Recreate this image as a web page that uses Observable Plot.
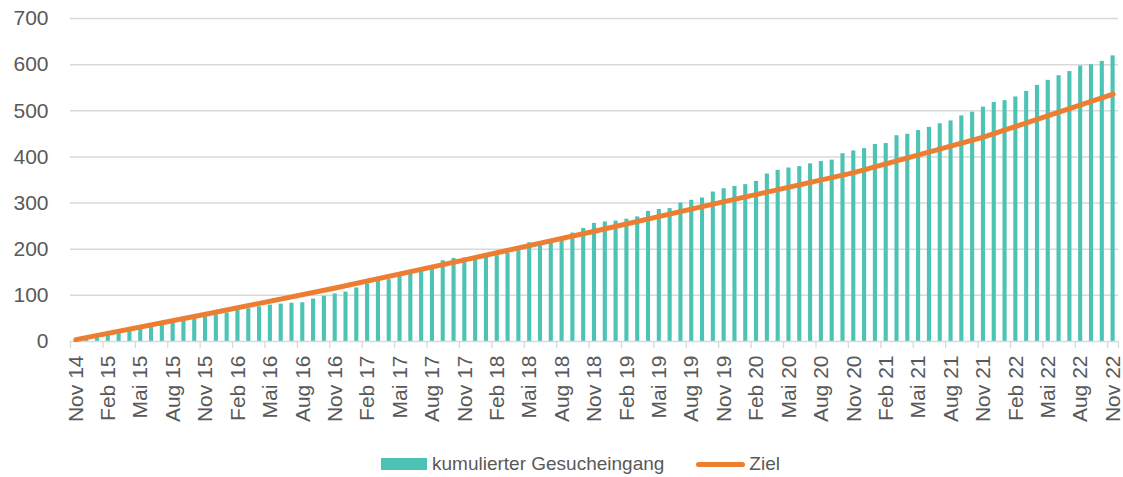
<!DOCTYPE html>
<html>
<head>
<meta charset="utf-8">
<script src="https://cdn.jsdelivr.net/npm/d3@7"></script>
<script src="https://cdn.jsdelivr.net/npm/@observablehq/plot@0.6"></script>
<style>
  body { margin: 0; background: #fff; font-family: "Liberation Sans", Arial, sans-serif; }
  #wrap { position: relative; width: 1123px; height: 477px; overflow: hidden; }
  #legend { position: absolute; left: 381px; top: 453px; display: flex; align-items: center; font-size: 19px; color: #595959; white-space: nowrap; }
  .sw-bar { width: 46px; height: 12px; background: #4cc3b4; margin-right: 5px; }
  .sw-line { width: 49px; height: 5px; background: #ed7d31; border-radius: 3px; margin-left: 32px; margin-right: 4px; }
</style>
</head>
<body>
<div id="wrap">
  <div id="chart"></div>
  <div id="legend">
    <div class="sw-bar"></div><span>kumulierter Gesucheingang</span>
    <div class="sw-line"></div><span>Ziel</span>
  </div>
</div>
<script>
// Category labels (monthly, Nov 14 – Nov 22)
const monthNames = ["Jan","Feb","Mär","Apr","Mai","Jun","Jul","Aug","Sep","Okt","Nov","Dez"];
const startMonth = 10; // Nov
const startYear = 14;
const monthCount = 97;
const categories = [];
for (let i = 0; i < monthCount; i++) {
  const m = startMonth + i;
  categories.push(monthNames[m % 12] + " " + (startYear + Math.floor(m / 12)));
}

// kumulierter Gesucheingang (monthly)
const gesuche = [
  2, 5, 8, 14, 20, 26, 31, 36, 40, 45, 48, 51,
  54, 58, 62, 67, 71, 75, 79, 81, 83, 84, 92, 98,
  103, 107, 116, 125, 131, 134, 141, 146, 152, 156, 175, 180,
  181, 182, 183, 186, 191, 197, 214, 215, 217, 220, 235, 245,
  256, 259, 261, 265, 270, 282, 286, 288, 300, 306, 311, 324,
  331, 336, 340, 347, 363, 371, 376, 379, 385, 390, 393, 407,
  413, 418, 427, 429, 446, 449, 457, 464, 472, 478, 489, 497,
  508, 518, 522, 530, 542, 555, 566, 576, 585, 597, 600, 607,
  619
];

// Ziel (target), read at each November
const zielMonths = ["Nov 14","Nov 15","Nov 16","Nov 17","Nov 18","Nov 19","Nov 20","Nov 21","Nov 22"];
const zielValues = [4, 59, 116, 177, 239, 303, 366, 443, 536];

// Axis tick labels
const xTickLabels = [
  "Nov 14","Feb 15","Mai 15","Aug 15","Nov 15","Feb 16","Mai 16","Aug 16","Nov 16",
  "Feb 17","Mai 17","Aug 17","Nov 17","Feb 18","Mai 18","Aug 18","Nov 18",
  "Feb 19","Mai 19","Aug 19","Nov 19","Feb 20","Mai 20","Aug 20","Nov 20",
  "Feb 21","Mai 21","Aug 21","Nov 21","Feb 22","Mai 22","Aug 22","Nov 22"
];
const yTicks = [0, 100, 200, 300, 400, 500, 600, 700];

const barData = categories.map((c, i) => ({month: c, value: gesuche[i]}));
const zielData = zielMonths.map((m, i) => ({month: m, value: zielValues[i]}));

const grey = "#d9d9d9";
const textColor = "#595959";

const chart = Plot.plot({
  width: 1123,
  height: 445,
  marginLeft: 70,
  marginRight: 5,
  marginTop: 18,
  marginBottom: 104,
  style: {fontFamily: "'Liberation Sans', Arial, sans-serif", fontSize: "21px", color: textColor, background: "transparent"},
  x: {
    type: "band",
    domain: categories,
    paddingInner: 0.62,
    paddingOuter: 0.31,
    ticks: xTickLabels,
    tickSize: 0,
    tickPadding: 14,
    tickRotate: -90,
    label: null
  },
  y: {
    domain: [0, 700],
    ticks: yTicks,
    tickSize: 0,
    tickPadding: 22,
    label: null
  },
  marks: [
    Plot.ruleY(yTicks.slice(1), {stroke: grey, strokeWidth: 1.5}),
    Plot.barY(barData, {x: "month", y: "value", fill: "#4cc3b4"}),
    Plot.ruleY([0], {stroke: grey, strokeWidth: 1.5}),
    Plot.ruleX(xTickLabels, {x: d => d, y1: 0, y2: 0, insetBottom: -7, dx: -5.4, stroke: grey, strokeWidth: 1.3}),
    Plot.ruleX([categories[categories.length - 1]], {x: d => d, y1: 0, y2: 0, insetBottom: -7, dx: 5.4, stroke: grey, strokeWidth: 1.3}),
    Plot.line(zielData, {x: "month", y: "value", stroke: "#ed7d31", strokeWidth: 5, strokeLinecap: "round", strokeLinejoin: "round"})
  ]
});
document.getElementById("chart").appendChild(chart);
</script>
</body>
</html>
